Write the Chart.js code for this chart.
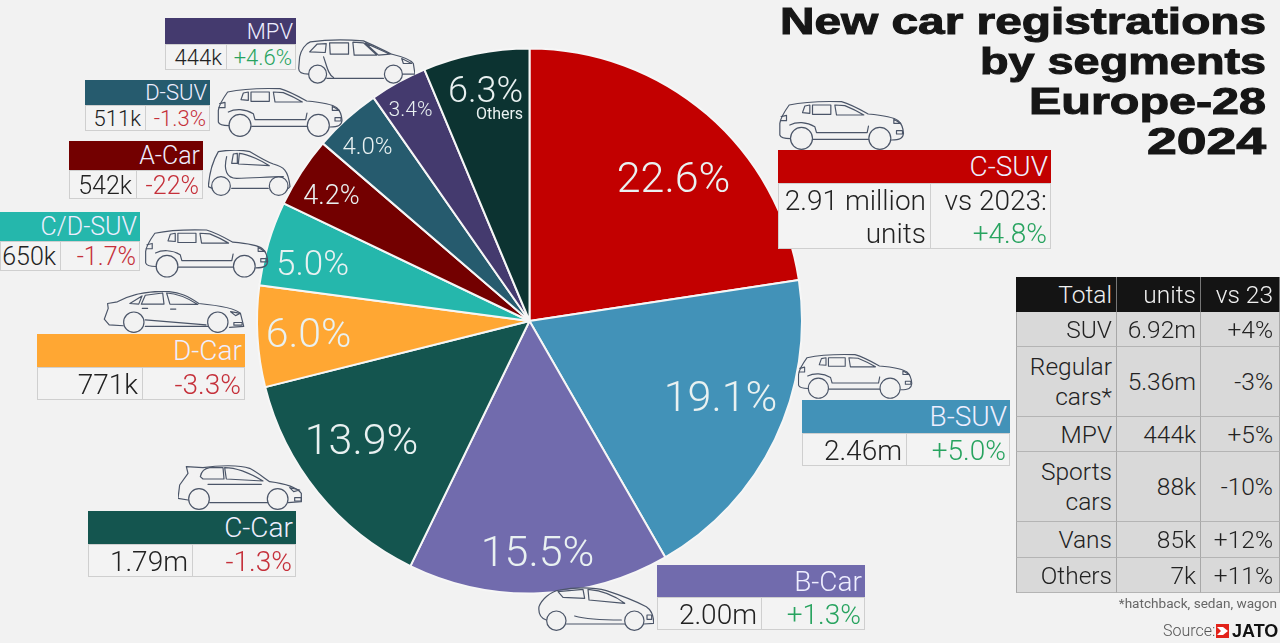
<!DOCTYPE html>
<html><head><meta charset="utf-8">
<script src="https://cdn.jsdelivr.net/npm/chart.js@4"></script>
<style>
html,body{margin:0;padding:0;background:#f2f2f2;width:1280px;height:643px;overflow:hidden}
body{font-family:Roboto,sans-serif;font-weight:300;color:#222;position:relative}
canvas{position:absolute;left:0;top:0}
.a{position:absolute;box-sizing:border-box}
.hd{color:#eef;text-align:right;white-space:nowrap}
.cell{border:1px solid #cfcfcf;background:#f3f3f3;text-align:right;white-space:nowrap;display:flex;flex-direction:column;justify-content:center;padding-top:1px}
.title{position:absolute;right:14px;font:bold 36px "Liberation Sans",sans-serif;color:#161616;-webkit-text-stroke:1px #161616;white-space:nowrap;transform-origin:right center;line-height:40px;height:40px}
.car{position:absolute;overflow:visible;fill:none;stroke:#4b5568;stroke-width:3.6;stroke-linejoin:round;stroke-linecap:round}
.car .w{fill:#f4f4f4}
.t{position:absolute;box-sizing:border-box;text-align:right;display:flex;flex-direction:column;justify-content:center;font-size:24.5px;line-height:30px;color:#222;padding-top:1px}
</style></head><body>
<canvas id="c" width="1280" height="643"></canvas>
<svg width="0" height="0" style="position:absolute">
<symbol id="suv" viewBox="25 30 380 150">
<path d="M62,146C45,146 32,142 30,135L30,100C32,85 40,70 58,45C90,38 150,33 215,35C240,42 270,58 295,72C330,75 370,80 385,92C395,100 400,115 401,130C400,145 390,150 365,150M296,148H130"/>
<path d="M98,68L105,48L120,45L120,70ZM128,45H183V73H128ZM195,45L225,47C245,55 265,65 282,75L200,75ZM60,105C80,95 110,95 135,110L140,128H292L296,108M372,88L392,100L372,100ZM380,122H398V132H380ZM34,80L50,76L50,92L32,92"/>
<circle class="w" cx="95" cy="145" r="33"/><circle class="w" cx="330" cy="145" r="33"/>
</symbol>
<symbol id="mpv" viewBox="893 118 352 132">
<path d="M925,222C905,222 895,215 895,205L898,170C902,150 915,130 930,125C980,118 1040,118 1090,122C1120,135 1150,150 1175,162C1200,168 1230,175 1240,190L1245,222L1208,222M980,235H1150"/>
<path d="M928,155L950,132L978,130L975,157ZM988,128H1045V162H990ZM1058,126L1090,128L1130,165L1062,165ZM1095,128L1170,162L1135,165ZM970,170C980,200 985,225 1000,232M1205,175L1235,190L1210,190Z"/>
<circle class="w" cx="952" cy="222" r="27"/><circle class="w" cx="1180" cy="222" r="27"/>
</symbol>
<symbol id="mini" viewBox="625 450 250 138">
<path d="M637,565L625,560C628,520 640,480 655,455C690,448 730,450 750,455C775,470 800,485 820,492C850,500 865,510 870,560L865,565M695,565H805"/>
<path d="M695,490L700,462L712,460V490ZM718,460C745,462 790,485 808,497L715,492ZM680,470C670,510 680,535 710,535C760,535 800,530 850,530"/>
<circle class="w" cx="663" cy="558" r="28"/><circle class="w" cx="836" cy="558" r="28"/>
</symbol>
<symbol id="sedan" viewBox="310 32 425 128">
<path d="M368,138L325,135L310,118L322,85L320,70L350,65C385,45 430,33 490,33C540,33 570,50 598,70C650,75 710,85 725,100L735,140L692,143M435,120L620,135M435,140H625"/>
<path d="M388,70L425,47L415,72ZM435,45L488,38L492,72L423,72ZM500,38C540,40 575,60 595,73L510,72ZM695,95L725,100L710,107ZM705,128H730V136H705ZM426,85H442M512,87H528"/>
<circle class="w" cx="400" cy="127" r="31"/><circle class="w" cx="656" cy="127" r="31"/>
</symbol>
<symbol id="hatch" viewBox="325 30 375 135">
<path d="M355,135L325,130L330,90L355,55L350,35L400,38C450,30 510,30 540,40C560,50 585,70 600,80C640,85 680,95 695,115L695,140L655,143M420,143H595"/>
<path d="M392,65C395,50 405,40 420,38L460,38L463,72H400ZM465,38C510,38 550,60 580,78L470,72ZM415,88H575M660,98L690,105L672,110ZM675,128H695V138H675Z"/>
<circle class="w" cx="388" cy="132" r="31"/><circle class="w" cx="624" cy="132" r="31"/>
</symbol>
<symbol id="bhatch" viewBox="25 742 348 130">
<path d="M50,840C35,835 25,825 28,800C35,780 60,755 90,750C130,742 190,740 230,752C270,765 320,785 350,800C365,810 372,825 372,850L342,852M110,852H285"/>
<path d="M85,755L100,772L165,775L160,748ZM175,748L178,780L285,790C260,770 220,752 175,748ZM135,828C170,838 220,840 275,840M352,825H366V838H352Z"/>
<circle class="w" cx="80" cy="842" r="29"/><circle class="w" cx="314" cy="842" r="29"/>
</symbol>
</svg>
<div id="o"></div>
<script>
// ---- data ----
const segments  = ["C-SUV","B-SUV","B-Car","C-Car","D-Car","C/D-SUV","A-Car","D-SUV","MPV","Others"];
const shares    = [22.6,19.1,15.5,13.9,6.0,5.0,4.2,4.0,3.4,6.3];
const colours   = ["#c20000","#4292b8","#716bad","#14554f","#ffa733","#25b7ac","#730000","#265b6e","#443a6e","#0c3331"];
const boxUnits  = ["2.91 million units","2.46m","2.00m","1.79m","771k","650k","542k","511k","444k"];
const boxChange = ["+4.8%","+5.0%","+1.3%","-1.3%","-3.3%","-1.7%","-22%","-1.3%","+4.6%"];
const tableHead  = ["Total","units","vs 23"];
const tableGroup = ["SUV","Regular cars*","MPV","Sports cars","Vans","Others"];
const tableUnits = ["6.92m","5.36m","444k","88k","85k","7k"];
const tableDelta = ["+4%","-3%","+5%","-10%","+12%","+11%"];
const titleLines = ["New car registrations","by segments","Europe-28","2024"];

// ---- layout (no data) ----
const titleWidth = [486,286,237,119];
const labelOffset = [[144,-140],[191,79],[8,234],[-168,122],[-221,16],[-217,-55],[-198,-124],[-162,-173],[-119,-210],[-44,-228]];
const labelSize   = [43,43,43,43,41,35,27,24,21,36];
const boxLayout = [ // x, y, w, headH, bodyH, divider, font, car, carX, carY, carW, carH
 [778,150,273,33,66,152,28,"suv",778,100,127,50],
 [802,400,208,33,33,104,28,"suv",797,353,116,46],
 [657,565,208,32,33,104,28,"bhatch",538,587,116,44],
 [88,511,208,33,33,104,28,"hatch",178,465,125,45],
 [37,334,208,33,33,105,28,"sedan",103,291,142,42],
 [0,212,140,29,30,60,25,"suv",144,228,125,50],
 [69,141,134,29,29,67,25,"mini",208,150,84,46],
 [85,80,125,25,26,60,22,"suv",215,87,130,50],
 [165,18,131,26,26,61,22,"mpv",298,39,117,45]];

new Chart(document.getElementById("c"),{
  type:"pie",
  data:{labels:segments,datasets:[{data:shares,backgroundColor:colours,borderColor:"#f6f6f6",borderWidth:2}]},
  options:{responsive:false,animation:false,
    layout:{padding:{left:256,right:477,top:47,bottom:48}},
    plugins:{legend:{display:false},tooltip:{enabled:false}}},
  plugins:[{id:"sliceLabels",afterDatasetsDraw(ch){
    const g=ch.ctx,m=ch.getDatasetMeta(0).data;
    g.save();g.textAlign="center";g.textBaseline="middle";g.fillStyle="#e9f1f1";
    m.forEach((arc,i)=>{
      g.font="300 "+labelSize[i]+"px Roboto";
      const [dx,dy]=labelOffset[i];
      g.fillText(shares[i].toFixed(1)+"%",arc.x+dx,arc.y+dy);
      if(segments[i]==="Others"){g.font="400 16px Roboto";g.fillText("Others",arc.x+dx+14,arc.y+dy+22);}
    });
    g.restore();
  }}]
});

const o=document.getElementById("o");
function el(cls,css,html){const d=document.createElement("div");d.className=cls;d.style.cssText=css;d.innerHTML=html;o.appendChild(d);return d;}
titleLines.forEach((t,i)=>{const d=el("title","top:"+(2+i*40)+"px;",t);d.style.transform="scaleX("+(titleWidth[i]/d.offsetWidth)+")";});

boxLayout.forEach((b,i)=>{
  const [x,y,w,hh,bh,dv,fs,car,cx,cy,cw,ch]=b;
  const cc=colours[i], pad=3;
  const s=document.createElementNS("http://www.w3.org/2000/svg","svg");
  s.setAttribute("class","car");s.setAttribute("style","left:"+cx+"px;top:"+cy+"px");
  s.setAttribute("width",cw);s.setAttribute("height",ch);
  s.innerHTML='<use href="#'+car+'"/>';o.appendChild(s);
  el("a hd","left:"+x+"px;top:"+y+"px;width:"+w+"px;height:"+hh+"px;background:"+cc+";font-size:"+fs+"px;line-height:"+(hh+1)+"px;padding-right:"+pad+"px;",segments[i]);
  const col=boxChange[i][0]==="+"?"#27a35f":"#c5303a";
  const lh=(i===0?33:bh);
  let left=boxUnits[i], right='<span style="color:'+col+'">'+boxChange[i]+'</span>';
  if(i===0){left="2.91 million<br>units";right='vs 2023:<br>'+right;}
  el("a cell","left:"+x+"px;top:"+(y+hh)+"px;width:"+(dv+1)+"px;height:"+bh+"px;font-size:"+fs+"px;line-height:"+lh+"px;padding-right:"+(pad+1)+"px;",'<div>'+left+'</div>');
  el("a cell","left:"+(x+dv)+"px;top:"+(y+hh)+"px;width:"+(w-dv)+"px;height:"+bh+"px;font-size:"+fs+"px;line-height:"+lh+"px;padding-right:"+pad+"px;",'<div>'+right+'</div>');
});

// summary table
const colX=[1016,1117,1201,1280];
const rowY=[312,347,417,452,522,558,593];
tableHead.forEach((t,c)=>el("t","left:"+colX[c]+"px;top:277px;width:"+(colX[c+1]-colX[c])+"px;height:35px;background:#141414;color:#f0f0f0;border-right:1px solid #777;padding-right:"+(c==2?6:4)+"px;",t));
tableGroup.forEach((g,r)=>{
  [g.replace(" ","<br>"),tableUnits[r],tableDelta[r]].forEach((t,c)=>{
    el("t","left:"+colX[c]+"px;top:"+rowY[r]+"px;width:"+(colX[c+1]-colX[c])+"px;height:"+(rowY[r+1]-rowY[r])+"px;background:#d9d9d9;border-right:1px solid #a8a8a8;border-bottom:1px solid #b4b4b4;"+(c==0?"border-left:1px solid #a8a8a8;":"")+"padding-right:"+(c==2?6:4)+"px;",t);
  });
});
el("a","right:3px;top:595px;font-size:13.6px;font-weight:400;color:#666;white-space:nowrap;","*hatchback, sedan, wagon");
el("a","left:1163px;top:621px;font-size:16px;font-weight:300;color:#555;white-space:nowrap;","Source:");
el("a","left:1216px;top:624px;width:13px;height:14px;background:#e2231a;","<svg width='13' height='14' style='display:block'><path d='M1 3H7L12 7L7 11H1L5 7Z' fill='#fff'/></svg>");
el("a","left:1232px;top:621px;font:bold 18px 'Liberation Sans',sans-serif;color:#111;white-space:nowrap;","JATO");
</script>
</body></html>
